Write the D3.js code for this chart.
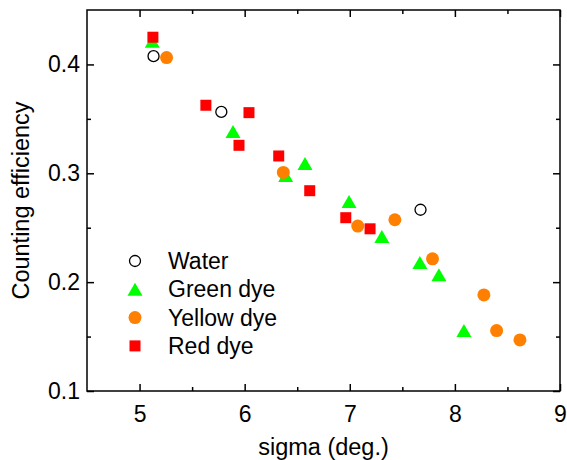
<!DOCTYPE html>
<html>
<head>
<meta charset="utf-8">
<script src="https://cdn.jsdelivr.net/npm/d3@7"></script>
<style>
  body { margin: 0; background: white; }
  svg { display: block; }
  text { font-family: "Liberation Sans", Arial, sans-serif; fill: black; }
</style>
</head>
<body>
<svg width="567" height="460"></svg>
<script>
// values
let water = [[5.133, 0.4076], [5.778, 0.3564], [7.673, 0.2665]];
let green = [[5.121, 0.4213], [5.889, 0.3385], [6.390, 0.2980], [6.574, 0.3091], [6.993, 0.2741],
             [7.305, 0.2420], [7.667, 0.2180], [7.848, 0.2067], [8.086, 0.1555]];
let yellow = [[5.257, 0.4063], [6.368, 0.3008], [7.076, 0.2515], [7.429, 0.2573], [7.787, 0.2214],
              [8.276, 0.1883], [8.397, 0.1555], [8.619, 0.1469]];
let red = [[5.127, 0.4250], [5.631, 0.3625], [6.041, 0.3557], [5.946, 0.3257], [6.324, 0.3159],
           [6.619, 0.2840], [6.962, 0.2592], [7.193, 0.2490]];
let seriesNames = ['Water', 'Green dye', 'Yellow dye', 'Red dye'];
let xTicks = [5, 6, 7, 8, 9], xMinor = [5.5, 6.5, 7.5, 8.5];
let yTicks = [0.1, 0.2, 0.3, 0.4], yMinor = [0.15, 0.25, 0.35];

let svg = d3.select("svg");
let x0 = 87, x1 = 560, y0 = 10, y1 = 391;
let x = d3.scaleLinear().domain([4.5, 9]).range([x0, x1]);
let y = d3.scaleLinear().domain([0.1, 0.45]).range([y1, y0]);

let series = [
    {name: seriesNames[0], data: water, shape: 'circle', fill: 'white', stroke: 'black'},
    {name: seriesNames[1], data: green, shape: 'triangle', fill: '#00ff00', stroke: 'none'},
    {name: seriesNames[2], data: yellow, shape: 'circle', fill: '#ff8000', stroke: 'none'},
    {name: seriesNames[3], data: red, shape: 'square', fill: '#ff0000', stroke: 'none'},
];

function marker(g, s) {
    if (s.shape == 'circle') {
        let r = s.stroke == 'none' ? 6.5 : 5.5;
        g.append('circle').attr('r', r).attr('fill', s.fill)
            .attr('stroke', s.stroke).attr('stroke-width', 1.3);
    } else if (s.shape == 'triangle') {
        g.append('path').attr('d', 'M0,-6.5L7.5,6.5L-7.5,6.5Z').attr('fill', s.fill);
    } else {
        g.append('rect').attr('x', -5.5).attr('y', -5.5).attr('width', 11).attr('height', 11).attr('fill', s.fill);
    }
}

// axes, ticks pointing inward on all four sides
function styleAxis(g) {
    g.select('.domain').remove();
    g.selectAll('line').attr('stroke', 'black').attr('stroke-width', 1.5);
    g.selectAll('text').style('font-size', '23px').attr('fill', 'black')
        .style('font-family', '"Liberation Sans", Arial, sans-serif');
}

svg.append('g').attr('transform', `translate(0,${y1})`)
    .call(d3.axisBottom(x).tickValues(xTicks).tickSize(-7).tickPadding(15).tickFormat(d3.format('d')))
    .call(styleAxis);
svg.append('g').attr('transform', `translate(0,${y1})`)
    .call(d3.axisBottom(x).tickValues(xMinor).tickSize(-4).tickFormat(''))
    .call(styleAxis);
svg.append('g').attr('transform', `translate(0,${y0})`)
    .call(d3.axisTop(x).tickValues(xTicks).tickSize(-7).tickFormat(''))
    .call(styleAxis);
svg.append('g').attr('transform', `translate(0,${y0})`)
    .call(d3.axisTop(x).tickValues(xMinor).tickSize(-4).tickFormat(''))
    .call(styleAxis);

svg.append('g').attr('transform', `translate(${x0},0)`)
    .call(d3.axisLeft(y).tickValues(yTicks).tickSize(-7).tickPadding(7).tickFormat(d3.format('.1f')))
    .call(styleAxis);
svg.append('g').attr('transform', `translate(${x0},0)`)
    .call(d3.axisLeft(y).tickValues(yMinor).tickSize(-4).tickFormat(''))
    .call(styleAxis);
svg.append('g').attr('transform', `translate(${x1},0)`)
    .call(d3.axisRight(y).tickValues(yTicks).tickSize(-7).tickFormat(''))
    .call(styleAxis);
svg.append('g').attr('transform', `translate(${x1},0)`)
    .call(d3.axisRight(y).tickValues(yMinor).tickSize(-4).tickFormat(''))
    .call(styleAxis);

svg.append('rect')
    .attr('x', x0).attr('y', y0).attr('width', x1 - x0).attr('height', y1 - y0)
    .attr('fill', 'none').attr('stroke', 'black').attr('stroke-width', 1.5);

// points
for (let s of series) {
    svg.append('g').selectAll('g').data(s.data).enter().append('g')
        .attr('transform', function(d) {return `translate(${x(d[0])},${y(d[1])})`})
        .each(function() {marker(d3.select(this), s)});
}

// legend
let legend = svg.append('g').selectAll('g').data(series).enter().append('g')
    .attr('transform', function(d, i) {return `translate(135,${261 + i * 28.3})`});
legend.each(function(s) {marker(d3.select(this), s)});
legend.append('text').attr('x', 33).attr('y', 8).style('font-size', '23px')
    .text(function(d) {return d.name});

// axis titles
svg.append('text').attr('x', (x0 + x1) / 2).attr('y', 455)
    .attr('text-anchor', 'middle').style('font-size', '23.5px').text('sigma (deg.)');
svg.append('text').attr('transform', `translate(29,${(y0 + y1) / 2}) rotate(-90)`)
    .attr('text-anchor', 'middle').style('font-size', '23.5px').text('Counting efficiency');
</script>
</body>
</html>
